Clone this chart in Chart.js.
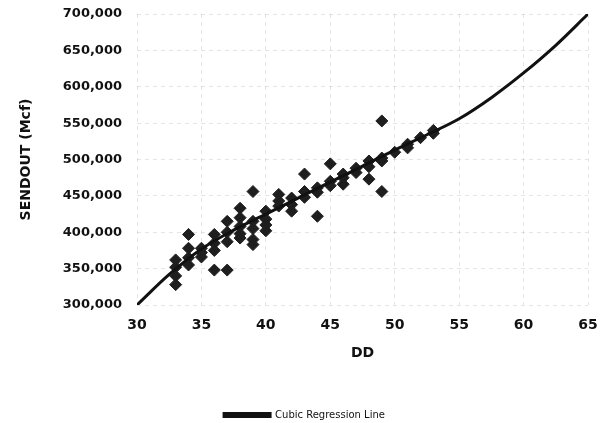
<!DOCTYPE html>
<html>
<head>
<meta charset="utf-8">
<script src="https://cdn.jsdelivr.net/npm/chart.js@4.4.1/dist/chart.umd.min.js"></script>
<style>
    html, body { margin: 0; padding: 0; background: #fff; }
    #wrap { width: 600px; height: 423px; position: relative; }
</style>
</head>
<body>
<div id="wrap"><canvas id="sendoutChart"></canvas></div>
<script>
// observed days (DD) and sendout (Mcf)
const obsDD = [
    33, 33, 33, 33,
    34, 34, 34, 34,
    35, 35, 35,
    36, 36, 36, 36,
    37, 37, 37, 37,
    38, 38, 38, 38, 38,
    39, 39, 39, 39, 39,
    40, 40, 40, 40,
    41, 41, 41,
    42, 42, 42,
    43, 43, 43,
    44, 44, 44,
    45, 45, 45,
    46, 46, 46,
    47, 47,
    48, 48, 48,
    49, 49, 49, 49,
    50,
    51, 51,
    52,
    53, 53
];
const obsSendout = [
    328000, 340000, 352000, 362000,
    397000, 378000, 365000, 355000,
    378000, 366000, 372000,
    397000, 348000, 385000, 375000,
    348000, 415000, 400000, 387000,
    433000, 420000, 398000, 408000, 392000,
    456000, 405000, 415000, 390000, 383000,
    429000, 418000, 410000, 402000,
    452000, 443000, 436000,
    447000, 429000, 438000,
    480000, 456000, 448000,
    422000, 461000, 455000,
    494000, 470000, 464000,
    466000, 475000, 480000,
    488000, 482000,
    473000, 498000, 490000,
    553000, 456000, 498000, 502000,
    510000,
    521000, 516000,
    530000,
    540000, 536000
];

// regression curve
const curveDD = [30, 32.5, 35, 37.5, 40, 42.5, 45, 47.5, 50, 52.5, 55, 57.5, 60, 62.5, 65];
const curveSendout = [300000, 342000, 377000, 403000, 425000, 447000, 469000, 491000,
    513000, 534000, 556000, 585000, 619000, 657000, 700000];

const xTicks = [30, 35, 40, 45, 50, 55, 60, 65];
const yTicks = [300000, 350000, 400000, 450000, 500000, 550000, 600000, 650000, 700000];

const FONT = "'DejaVu Sans', sans-serif";

const scatterPoints = obsDD.map((d, i) => ({ x: d, y: obsSendout[i] }));
const curvePoints = curveDD.map((d, i) => ({ x: d, y: curveSendout[i] }));

const gridStyle = {
    color: 'rgba(0, 0, 0, 0.10)',
    lineWidth: 1,
    drawTicks: false
};
const gridBorder = { display: false, dash: [4, 4] };

new Chart(document.getElementById('sendoutChart'), {
    type: 'scatter',
    data: {
        datasets: [{
            label: 'Cubic Regression Line',
            type: 'line',
            data: curvePoints,
            borderColor: '#111',
            backgroundColor: '#111',
            borderWidth: 3,
            pointRadius: 0,
            showLine: true,
            fill: false,
            tension: 0.4,
            cubicInterpolationMode: 'monotone',
            order: 0
        }, {
            label: 'Actual',
            data: scatterPoints,
            pointStyle: 'rectRot',
            pointRadius: 6,
            backgroundColor: '#1e1e1e',
            borderColor: '#1e1e1e',
            borderWidth: 1,
            order: 1
        }]
    },
    options: {
        responsive: true,
        maintainAspectRatio: false,
        animation: false,
        layout: {
            padding: { left: 21, right: 12, top: 14, bottom: -7 }
        },
        plugins: {
            legend: {
                display: true,
                position: 'bottom',
                labels: {
                    filter: (item) => item.datasetIndex === 0,
                    color: '#111',
                    font: { family: FONT, size: 10 },
                    boxWidth: 46,
                    boxHeight: 3,
                    padding: 10
                }
            },
            tooltip: { enabled: false }
        },
        scales: {
            x: {
                type: 'linear',
                min: 30,
                max: 65,
                afterBuildTicks: (scale) => {
                    scale.ticks = xTicks.map(v => ({ value: v }));
                },
                afterFit: (scale) => {
                    scale.height = 95;
                    scale.paddingLeft = 0;
                    scale.paddingRight = 0;
                },
                grid: gridStyle,
                border: gridBorder,
                ticks: {
                    color: '#111',
                    padding: 12,
                    font: { family: FONT, size: 14, weight: 'bold' }
                },
                title: {
                    display: true,
                    text: 'DD',
                    color: '#111',
                    padding: { top: 0, bottom: 38 },
                    font: { family: FONT, size: 14, weight: 'bold' }
                }
            },
            y: {
                type: 'linear',
                min: 300000,
                max: 700000,
                afterBuildTicks: (scale) => {
                    scale.ticks = yTicks.map(v => ({ value: v }));
                },
                afterFit: (scale) => {
                    scale.width = 116;
                    scale.paddingTop = 0;
                    scale.paddingBottom = 0;
                },
                grid: gridStyle,
                border: gridBorder,
                ticks: {
                    color: '#111',
                    padding: 15,
                    font: { family: FONT, size: 13, weight: 'bold' },
                    callback: (value) => value.toLocaleString('en-US')
                },
                title: {
                    display: true,
                    text: 'SENDOUT (Mcf)',
                    color: '#111',
                    padding: { top: -3, bottom: 0 },
                    font: { family: FONT, size: 14, weight: 'bold' }
                }
            }
        }
    }
});
</script>
</body>
</html>
